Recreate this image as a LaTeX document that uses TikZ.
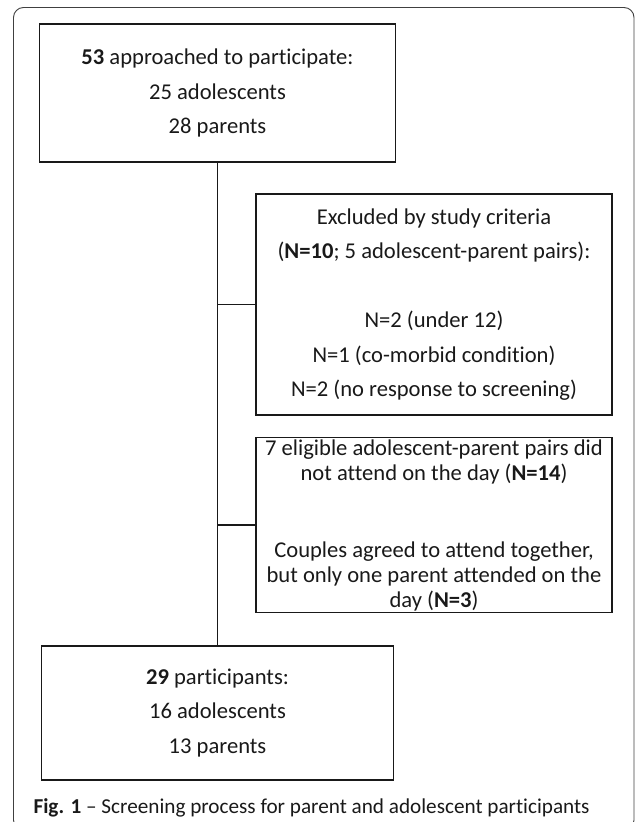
\documentclass[tikz,border=0pt]{standalone}
\usepackage{fontspec}
\setmainfont{Carlito}[Ligatures={TeX,NoCommon}]
\usetikzlibrary{calc}

\begin{document}
\begin{tikzpicture}[x=1pt,y=-1pt,
	box/.style={draw=black!90, line width=1.6pt, inner sep=0pt, minimum width=356pt, align=center, text=black!90, font=\fontsize{22.6}{34.5}\selectfont},
	link/.style={draw=black!90, line width=1.6pt}]
	\useasboundingbox (0,0) rectangle (635,822);

	% Frame
	\draw[black!75, line width=0.9pt, rounded corners=10pt] (13.5,830) rectangle (634,7.5);

	% Main boxes
	\node[box, minimum height=138pt] (approached) at (217.5,93) {\textbf{53} approached to participate:\\25 adolescents\\28 parents};
	\node[box, minimum width=352pt, minimum height=134pt] (participants) at (217.5,713) {\textbf{29} participants:\\16 adolescents\\13 parents};

	% Side boxes
	\node[box, minimum height=221pt] (excluded) at (434,304.5) {Excluded by study criteria\\(\textbf{N=10}; 5 adolescent-parent pairs):\\[34.5pt]N=2 (under 12)\\N=1 (co-morbid condition)\\N=2 (no response to screening)};
	\node[box, minimum height=175pt, font=\fontsize{22.6}{25}\selectfont] (absent) at (434,525) {7 eligible adolescent-parent pairs did\\not attend on the day (\textbf{N=14})\\[52pt]Couples agreed to attend together,\\but only one parent attended on the\\day (\textbf{N=3})};

	% Connectors
	\draw[link] (approached.south) -- (participants.north);
	\draw[link] (excluded.west) -- (excluded.west -| approached.south);
	\draw[link] (absent.west) -- (absent.west -| approached.south);

	% Caption
	\node[anchor=base west, text=black!90, font=\fontsize{21.2}{26}\selectfont] (caption) at (30,813) {\textbf{Fig. 1} \textendash{} Screening process for parent and adolescent participants};
\end{tikzpicture}
\end{document}
